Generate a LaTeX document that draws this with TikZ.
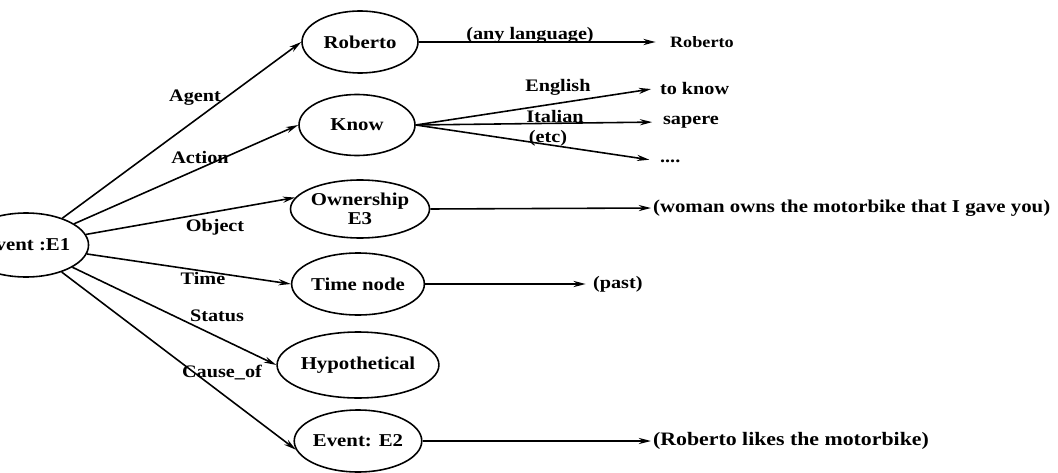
\documentclass[tikz,border=0pt]{standalone}
\usepackage{fontspec}
\setmainfont{Liberation Serif}[FakeStretch=1.15]
\usetikzlibrary{arrows.meta,shapes.geometric}

\begin{document}
\begin{tikzpicture}[x=0.02cm,y=-0.02cm,
  concept/.style={draw,ellipse,line width=0.9pt,minimum width=2.32cm,minimum height=1.24cm,
    inner sep=0pt,align=center,font=\bfseries\fontsize{10.3}{11}\selectfont},
  rel/.style={inner sep=1pt,font=\bfseries\fontsize{10}{11}\selectfont},
  gloss/.style={anchor=west,inner sep=1pt,font=\bfseries\fontsize{10}{11}\selectfont},
  link/.style={line width=0.9pt,-{Stealth[length=7pt,width=3.5pt]}}]
  \useasboundingbox (0,0) rectangle (1058,473);
  \clip (0,0) rectangle (1058,473);
  \node[concept,minimum width=2.36cm,minimum height=1.28cm] (e1) at (26,245) {Event :E1};
  \node[concept] (roberto) at (360,42) {Roberto};
  \node[concept,minimum height=1.22cm] (know) at (357,125) {Know};
  \node[concept,minimum width=2.28cm,minimum height=1.16cm] (own) at (360,209) {Ownership\\E3};
  \node[concept] (timenode) at (358,284) {Time node};
  \node[concept,minimum width=2.5cm,minimum height=1.32cm] (hypo) at (358,365) {Hypothetical};
  \node[concept,minimum width=2.28cm] (e2) at (358,441) {Event: E2};
  \node[gloss,font=\bfseries\fontsize{9}{10}\selectfont] (robgl) at (668,42) {Roberto};
  \node[gloss] (toknow) at (658,88) {to know};
  \node[gloss] (sapere) at (661,122) {sapere};
  \node[gloss] (etcgl) at (658,161) {....};
  \node[gloss,font=\bfseries\fontsize{10.3}{11}\selectfont] (owngl) at (651,208) {(woman owns the motorbike that I gave you)};
  \node[gloss] (past) at (591,284) {(past)};
  \node[gloss,font=\bfseries\fontsize{10.8}{12}\selectfont] (e2gl) at (651,441) {(Roberto likes the motorbike)};
  \draw[link] (e1) -- (roberto.west);
  \draw[link] (e1) -- (know.west);
  \draw[link] (e1) -- (own.170);
  \draw[link] (e1) -- (timenode.west);
  \draw[link] (e1) -- (hypo.west);
  \draw[link] (e1) -- (e2.188);
  \draw[link,shorten >=7pt] (roberto.east) -- (robgl.west);
  \draw[link,shorten >=4pt] (know.east) -- (toknow.west);
  \draw[link,shorten >=5pt] (know.east) -- (sapere.west);
  \draw[link,shorten >=5pt] (know.east) -- (etcgl.west);
  \draw[link] (own.east) -- (owngl.west);
  \draw[link,shorten >=3pt] (timenode.east) -- (past.west);
  \draw[link] (e2.east) -- (e2gl.west);
  \node[rel] (agent) at (195,98) {Agent};
  \node[rel] (action) at (200,157) {Action};
  \node[rel] (object) at (215,227) {Object};
  \node[rel] (time) at (203,278) {Time};
  \node[rel] (status) at (217,316) {Status};
  \node[rel] (causeof) at (222,373) {Cause\_of};
  \node[rel] (anylang) at (530,35) {(any language)};
  \node[rel] (english) at (558,87) {English};
  \node[rel] (italian) at (555,116) {Italian};
  \node[rel] (etc) at (548,138) {(etc)};
\end{tikzpicture}
\end{document}
